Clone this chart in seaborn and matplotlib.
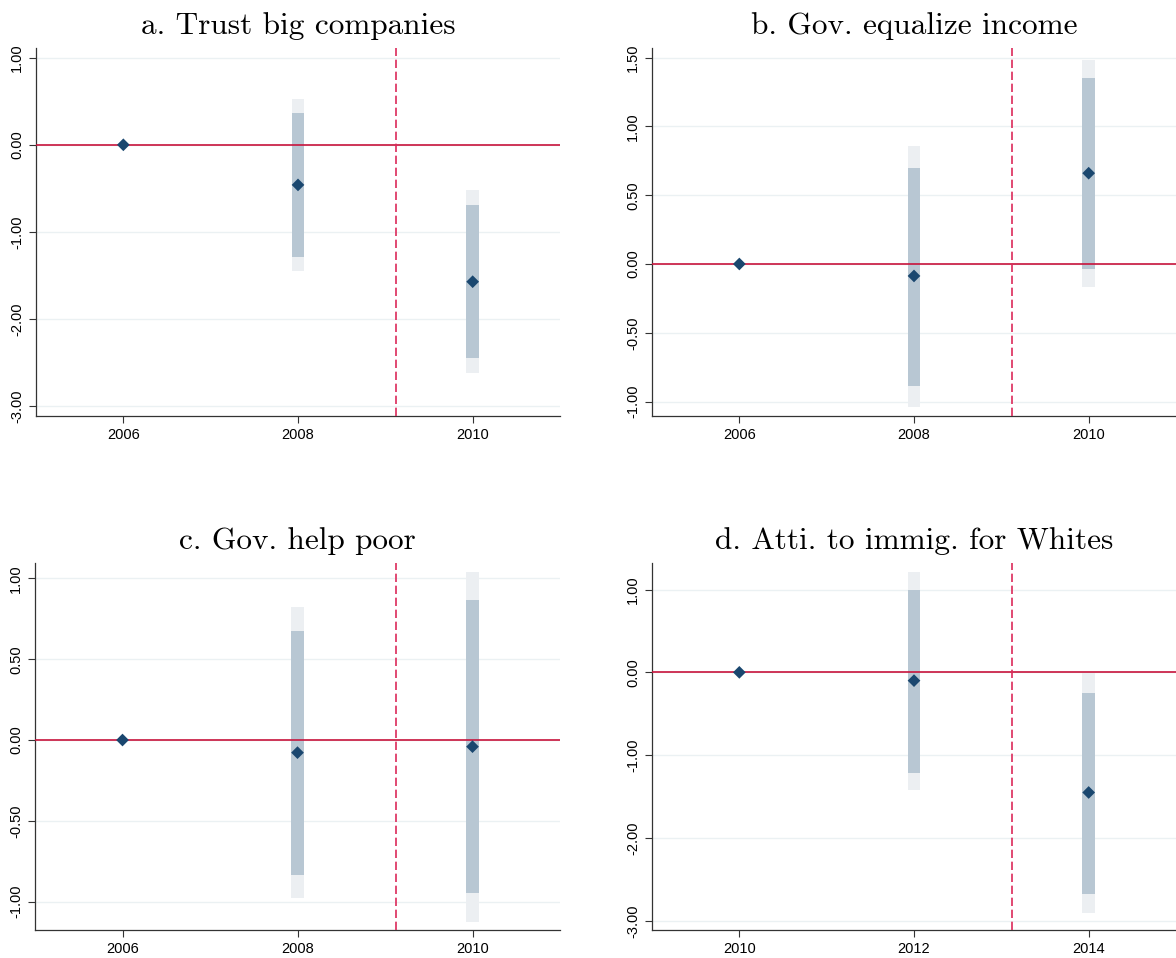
import numpy as np
import pandas as pd
import matplotlib
matplotlib.use('Agg')
import matplotlib.pyplot as plt
import seaborn as sns
from matplotlib.ticker import FormatStrFormatter

# Datos (coeficientes y bandas de confianza)
titles = ['a. Trust big companies', 'b. Gov. equalize income',
          'c. Gov. help poor', 'd. Atti. to immig. for Whites']

years_a = [2006, 2008, 2010]
coef_a = [0.0, -0.46, -1.57]
ci90_lo_a = [np.nan, -1.29, -2.45]
ci90_hi_a = [np.nan, 0.36, -0.69]
ci95_lo_a = [np.nan, -1.45, -2.62]
ci95_hi_a = [np.nan, 0.52, -0.52]

years_b = [2006, 2008, 2010]
coef_b = [0.0, -0.087, 0.66]
ci90_lo_b = [np.nan, -0.89, -0.04]
ci90_hi_b = [np.nan, 0.70, 1.35]
ci95_lo_b = [np.nan, -1.04, -0.17]
ci95_hi_b = [np.nan, 0.86, 1.48]

years_c = [2006, 2008, 2010]
coef_c = [0.0, -0.078, -0.041]
ci90_lo_c = [np.nan, -0.833, -0.948]
ci90_hi_c = [np.nan, 0.676, 0.866]
ci95_lo_c = [np.nan, -0.98, -1.124]
ci95_hi_c = [np.nan, 0.82, 1.04]

years_d = [2010, 2012, 2014]
coef_d = [0.0, -0.10, -1.45]
ci90_lo_d = [np.nan, -1.21, -2.67]
ci90_hi_d = [np.nan, 1.00, -0.246]
ci95_lo_d = [np.nan, -1.42, -2.90]
ci95_hi_d = [np.nan, 1.215, -0.012]

event_x = [2009.12, 2009.12, 2009.12, 2013.12]
xlims = [(2005, 2011), (2005, 2011), (2005, 2011), (2009, 2015)]
ylims = [(-3.11, 1.11), (-1.105, 1.57), (-1.175, 1.095), (-3.11, 1.32)]
yticks = [[-3, -2, -1, 0, 1], [-1, -0.5, 0, 0.5, 1, 1.5],
          [-1, -0.5, 0, 0.5, 1], [-3, -2, -1, 0, 1]]

panels = [
    (years_a, coef_a, ci90_lo_a, ci90_hi_a, ci95_lo_a, ci95_hi_a),
    (years_b, coef_b, ci90_lo_b, ci90_hi_b, ci95_lo_b, ci95_hi_b),
    (years_c, coef_c, ci90_lo_c, ci90_hi_c, ci95_lo_c, ci95_hi_c),
    (years_d, coef_d, ci90_lo_d, ci90_hi_d, ci95_lo_d, ci95_hi_d),
]

sns.set_style('white')
plt.rcParams['font.family'] = ['Liberation Sans', 'DejaVu Sans']
plt.rcParams['text.color'] = 'black'
plt.rcParams['xtick.color'] = 'black'
plt.rcParams['ytick.color'] = 'black'

W, H = 1176, 958
fig = plt.figure(figsize=(W / 100, H / 100), dpi=100)

# posiciones de los ejes en pixeles (izq, arriba, der, abajo)
boxes = [(36, 48, 560, 416), (652, 48, 1176, 416),
         (35, 563, 560, 930), (652, 563, 1176, 930)]

navy = '#1a476f'
red = '#c8143c'
red_dash = '#dc2a5a'
inner = '#b8c7d3'
outer = '#eceff2'

for i, (yrs, coef, lo90, hi90, lo95, hi95) in enumerate(panels):
    l, t, r, b = boxes[i]
    ax = fig.add_axes([l / W, 1 - b / H, (r - l) / W, (b - t) / H])
    df = pd.DataFrame({'year': yrs, 'coef': coef, 'lo90': lo90, 'hi90': hi90,
                       'lo95': lo95, 'hi95': hi95})
    ci = df.dropna()

    for yv in yticks[i]:
        ax.axhline(yv, color='#ebf1f3', lw=1.0, zorder=0)
    ax.bar(ci['year'], ci['hi95'] - ci['lo95'], bottom=ci['lo95'], width=0.145,
           color=outer, zorder=1, linewidth=0)
    ax.bar(ci['year'], ci['hi90'] - ci['lo90'], bottom=ci['lo90'], width=0.145,
           color=inner, zorder=2, linewidth=0)
    ax.axhline(0, color=red, lw=1.2, zorder=3)
    ax.axvline(event_x[i], color=red_dash, lw=1.2, ls=(0, (5, 2.2)), zorder=3)
    sns.scatterplot(data=df, x='year', y='coef', marker='D', s=42, color=navy,
                    edgecolor='none', zorder=4, ax=ax, legend=False)

    ax.set_xlim(*xlims[i])
    ax.set_ylim(*ylims[i])
    ax.set_xticks(yrs)
    ax.set_yticks(yticks[i])
    ax.yaxis.set_major_formatter(FormatStrFormatter('%.2f'))
    ax.set_xlabel('')
    ax.set_ylabel('')
    ax.tick_params(axis='both', which='major', direction='out', length=5,
                   width=0.8, color='#333333', labelcolor='black', labelsize=10.5,
                   left=True, bottom=True)
    for lab in ax.get_yticklabels():
        lab.set_rotation(90)
        lab.set_va('center')
    for side in ['top', 'right']:
        ax.spines[side].set_visible(False)
    for side in ['left', 'bottom']:
        ax.spines[side].set_color('#333333')
        ax.spines[side].set_linewidth(0.9)
    ax.set_title(titles[i], family='cmr10', fontsize=22.5, pad=10, color='black')

fig.savefig('out.png', dpi=100, facecolor='white')
